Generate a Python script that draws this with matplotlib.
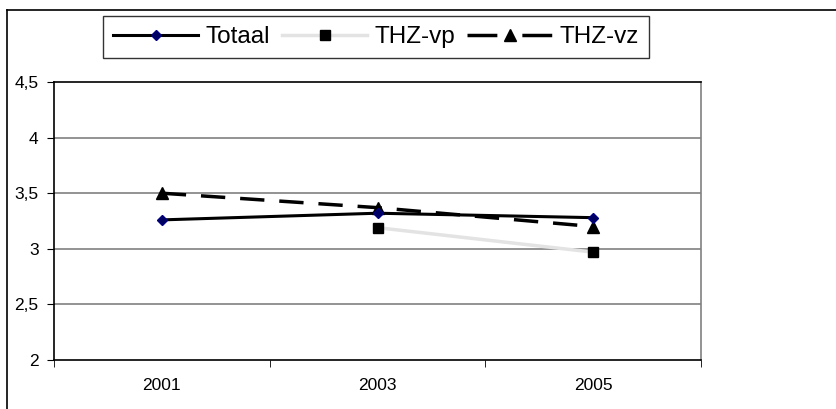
import matplotlib
matplotlib.use("Agg")
import matplotlib.pyplot as plt
from matplotlib.lines import Line2D

plt.rcParams['font.family'] = ['Liberation Sans', 'DejaVu Sans']

years = ["2001", "2003", "2005"]
totaal = [3.26, 3.32, 3.28]
thz_vp = [None, 3.19, 2.97]
thz_vz = [3.50, 3.37, 3.20]
yticks = [2, 2.5, 3, 3.5, 4, 4.5]
ytick_labels = ["2", "2,5", "3", "3,5", "4", "4,5"]

W, H = 836, 409
fig = plt.figure(figsize=(W / 100, H / 100), dpi=100)

# outer chart frame (left and top edges visible)
fig.add_artist(Line2D([7 / W, 7 / W], [0, 1 - 10 / H], color='black', lw=1.2))
fig.add_artist(Line2D([7 / W, 1], [1 - 10 / H, 1 - 10 / H], color='black', lw=1.2))

x0, x1 = 54, 701
y0, y1 = 82, 360
ax = fig.add_axes([x0 / W, 1 - y1 / H, (x1 - x0) / W, (y1 - y0) / H])

xs = list(range(len(years)))
ax.set_xlim(-0.5, len(years) - 0.5)
ax.set_ylim(2, 4.5)

for y in yticks[1:-1]:
    ax.axhline(y, color='#808080', lw=1.2, zorder=1)

vp_x = [x for x, v in zip(xs, thz_vp) if v is not None]
vp_y = [v for v in thz_vp if v is not None]
h1, = ax.plot(xs, totaal, color='black', lw=2.2, marker='D', markersize=5.5,
              markerfacecolor='#000060', markeredgecolor='#000080', zorder=4, label='Totaal')
h2, = ax.plot(vp_x, vp_y, color='#E3E3E3', lw=2.5, marker='s', markersize=7.5,
              markerfacecolor='black', markeredgecolor='black', zorder=3, label='THZ-vp')
ax.plot(xs, thz_vz, color='black', lw=2.5, dashes=(7, 4.3), marker='^', markersize=9,
        markerfacecolor='black', markeredgecolor='black', zorder=3)
# legend proxy for the dashed series, so its dashes sit symmetric around the marker
h3 = Line2D([], [], color='black', lw=2.5, dashes=(8.6, 7.2, 8.6, 20), marker='^',
            markersize=9, markerfacecolor='black', markeredgecolor='black')

ax.set_yticks(yticks)
ax.set_yticklabels(ytick_labels)
ax.set_xticks(xs)
ax.set_xticklabels(years)
ax.set_xticks([-0.5, 0.5, 1.5, 2.5], minor=True)
ax.tick_params(axis='x', which='major', length=0, pad=13, labelsize=12.5)
ax.tick_params(axis='x', which='minor', length=5, direction='out', color='black')
ax.tick_params(axis='y', length=5, direction='out', labelsize=12.5, pad=6)

ax.spines['left'].set_color('black')
ax.spines['bottom'].set_color('black')
ax.spines['top'].set_color('black')
ax.spines['right'].set_color('#808080')
for s in ax.spines.values():
    s.set_linewidth(1.2)

leg = fig.legend(handles=[h1, h2, h3], labels=['Totaal', 'THZ-vp', 'THZ-vz'],
                 loc='center', bbox_to_anchor=(376 / W, 1 - 37 / H), ncol=3,
                 fontsize=17.5, frameon=True, fancybox=False, edgecolor='black',
                 handlelength=3.5, columnspacing=0.5, handletextpad=0.3,
                 borderpad=0.42, borderaxespad=0)
leg.get_frame().set_linewidth(1.0)

fig.savefig('out.png', dpi=100)
